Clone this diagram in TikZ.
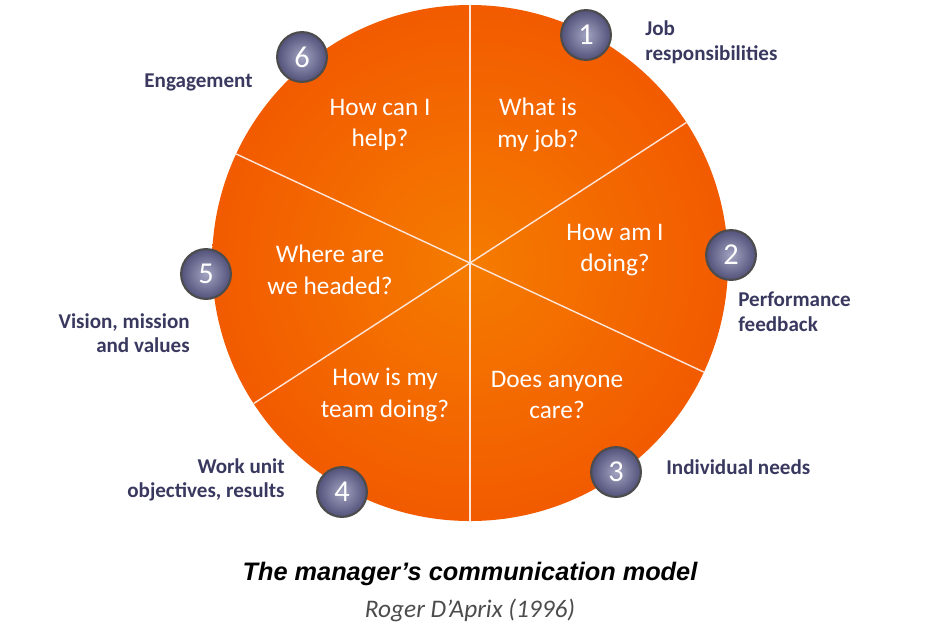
\documentclass[tikz,border=0pt]{standalone}
\usepackage{fontspec}
\setmainfont{Carlito}
\newfontfamily\titlefont{Liberation Sans}
\usetikzlibrary{shadings,calc}
\colorlet{wheel}{orange!75!red!95!black}
\colorlet{badge}{blue!20!gray}
\colorlet{caption}{blue!25!gray!60!black}
\tikzset{
  every badge/.style={circle,minimum size=50pt*0.02/0.0352778,draw=black!70,line width=1.2pt,
    inner color=badge!60!white,outer color=badge!80!black,text=white,font=\LARGE},
  question/.style={align=center,text=white,font=\Large,inner sep=0pt},
  topic/.style={text=caption,font=\large\bfseries,inner sep=0pt},
}
\begin{document}
\begin{tikzpicture}[x=0.02cm,y=-0.02cm]
\useasboundingbox (0,0) rectangle (928,630);
% wheel
\shade[inner color=wheel!80!yellow,outer color=wheel] (470,263) circle (258);
\coordinate (hub) at (470,263);
\foreach \ang in {90,155,213}{
  \draw[white!85!wheel,line width=0.8pt] ($(hub)+(-\ang:258)$) -- ($(hub)+(180-\ang:258)$);
}
% questions
\node[question] (q1) at (538,125) {What is\\my job?};
\node[question] (q2) at (615,250) {How am I\\doing?};
\node[question] (q3) at (557,395) {Does anyone\\care?};
\node[question] (q4) at (385,395) {How is my\\team doing?};
\node[question] (q5) at (330,270) {Where are\\we headed?};
\node[question] (q6) at (380,125) {How can I\\help?};
% badges
\foreach \n/\x/\y in {1/586/35,2/731/255,3/616/472,4/342/492,5/206/274,6/302/57}{
  \node[every badge] (b\n) at (\x,\y) {\n};
}
% topics
\node[topic,align=left,anchor=west] (t1) at (645,42) {Job\\responsibilities};
\node[topic,align=left,anchor=west] (t2) at (738,312) {Performance\\feedback};
\node[topic,anchor=west] (t3) at (666,467) {Individual needs};
\node[topic,align=right,anchor=east] (t4) at (285,480) {Work unit\\objectives, results};
\node[topic,align=right,anchor=east] (t5) at (190,333) {Vision, mission\\and values};
\node[topic,anchor=east] (t6) at (253,82) {Engagement};
% captions
\node[font=\titlefont\Large\bfseries\itshape] (title) at (470,574) {The manager’s communication model};
\node[font=\Large\itshape,text=black!70] (src) at (470,610) {Roger D’Aprix (1996)};
\end{tikzpicture}
\end{document}
